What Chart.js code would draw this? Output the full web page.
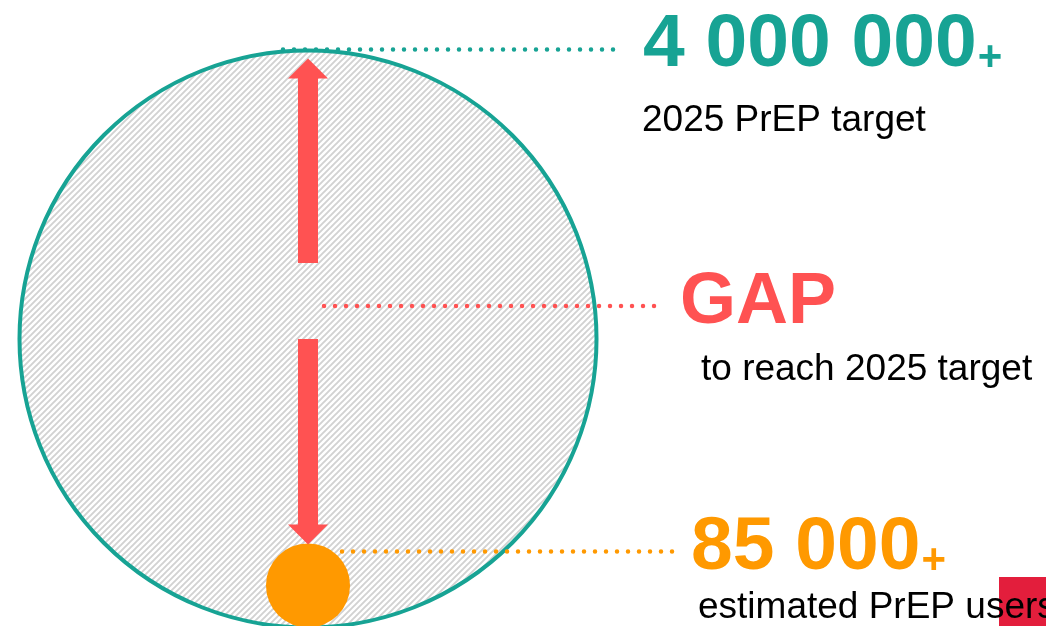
<!DOCTYPE html>
<html>
<head>
<meta charset="utf-8">
<script src="https://cdn.jsdelivr.net/npm/chart.js@4/dist/chart.umd.min.js"></script>
<style>
  html, body { margin: 0; padding: 0; background: #fff; }
  #wrap { width: 1046px; height: 626px; position: relative; overflow: hidden; }
</style>
</head>
<body>
<div id="wrap"><canvas id="prepChart"></canvas></div>
<script>
document.addEventListener('DOMContentLoaded', () => {

    // PrEP users against the 2025 target; circle areas follow the counts.
    const categories = ['2025 PrEP target', 'estimated PrEP users'];
    const prepCounts = [4000000, 85000];
    const gapTitle = 'GAP';
    const gapCaption = 'to reach 2025 target';

    const TEAL = '#17a394';
    const RED = '#ff5252';
    const ORANGE = '#ff9900';
    const FONT = '"Liberation Sans", Arial, sans-serif';

    function spaced(n) {
        return String(n).replace(/\B(?=(\d{3})+(?!\d))/g, ' ');
    }

    // Target circle has radius 1 in data units, the users circle is scaled by area
    // and sits inside it, touching the bottom edge.
    const radii = prepCounts.map(v => Math.sqrt(v / prepCounts[0]));
    const points = [
        { x: 0, y: 0 },
        { x: 0, y: -radii[0] + radii[1] },
    ];

    function hatchPattern() {
        const s = 6;
        const c = document.createElement('canvas');
        c.width = c.height = s;
        const g = c.getContext('2d');
        g.fillStyle = '#ffffff';
        g.fillRect(0, 0, s, s);
        g.strokeStyle = '#d2d2d2';
        g.lineWidth = 1.9;
        g.beginPath();
        g.moveTo(-1, s + 1); g.lineTo(s + 1, -1);
        g.moveTo(-1, 1); g.lineTo(1, -1);
        g.moveTo(s - 1, s + 1); g.lineTo(s + 1, s - 1);
        g.stroke();
        return g.createPattern(c, 'repeat');
    }
    const hatch = hatchPattern();

    // Pixels per data unit on the vertical scale.
    function unitPx(chart) {
        const y = chart.scales.y;
        return y.getPixelForValue(0) - y.getPixelForValue(1);
    }

    function dotted(ctx, x1, x2, y, color) {
        ctx.save();
        ctx.strokeStyle = color;
        ctx.lineWidth = 4.5;
        ctx.lineCap = 'round';
        ctx.setLineDash([0, 11]);
        ctx.beginPath();
        ctx.moveTo(x1, y);
        ctx.lineTo(x2, y);
        ctx.stroke();
        ctx.restore();
    }

    // Vertical block arrow from yFrom to the tip at yTo.
    function arrow(ctx, x, yFrom, yTo) {
        const dir = Math.sign(yTo - yFrom);
        const head = 20, shaft = 10, wing = 20;
        const base = yTo - dir * head;
        ctx.save();
        ctx.fillStyle = RED;
        ctx.beginPath();
        ctx.moveTo(x - shaft, yFrom);
        ctx.lineTo(x - shaft, base);
        ctx.lineTo(x - wing, base);
        ctx.lineTo(x, yTo);
        ctx.lineTo(x + wing, base);
        ctx.lineTo(x + shaft, base);
        ctx.lineTo(x + shaft, yFrom);
        ctx.closePath();
        ctx.fill();
        ctx.restore();
    }

    function text(ctx, str, x, y, size, color, bold) {
        ctx.font = (bold ? 'bold ' : '') + size + 'px ' + FONT;
        ctx.fillStyle = color;
        ctx.fillText(str, x, y);
        return ctx.measureText(str).width;
    }

    const annotations = {
        id: 'annotations',
        afterDatasetsDraw(chart) {
            const { ctx } = chart;
            const [big, small] = chart.getDatasetMeta(0).data;
            const bigTop = big.y - big.options.radius;
            const smallTop = small.y - small.options.radius;

            arrow(ctx, big.x, big.y - 76, bigTop + 8);
            arrow(ctx, big.x, big.y, smallTop + 1);

            dotted(ctx, big.x - 25, 623, bigTop - 1, TEAL);
            dotted(ctx, big.x + 16, 663, big.y - 33, RED);
            dotted(ctx, small.x + 34, 682, small.y - 34, ORANGE);

            ctx.save();
            ctx.textBaseline = 'alphabetic';
            ctx.textAlign = 'left';

            let w = text(ctx, spaced(prepCounts[0]), 643, 66, 75, TEAL, true);
            text(ctx, '+', 643 + w + 1, 70, 42, TEAL, true);
            text(ctx, categories[0], 642, 131, 37, '#000', false);

            text(ctx, gapTitle, 680, 323, 72, RED, true);
            text(ctx, gapCaption, 701, 380, 37, '#000', false);

            w = text(ctx, spaced(prepCounts[1]), 691, 569, 75, ORANGE, true);
            text(ctx, '+', 691 + w + 1, 573, 42, ORANGE, true);

            ctx.fillStyle = '#e31e3c';
            ctx.fillRect(999, 577, 47, 49);
            text(ctx, categories[1], 698, 618, 37, '#000', false);
            ctx.restore();
        }
    };

    new Chart(document.getElementById('prepChart'), {
        type: 'scatter',
        data: {
            labels: categories,
            datasets: [{
                data: points,
                showLine: false,
                pointRadius: (c) => unitPx(c.chart) * radii[c.dataIndex],
                pointHoverRadius: (c) => unitPx(c.chart) * radii[c.dataIndex],
                pointBackgroundColor: (c) => c.dataIndex === 0 ? hatch : ORANGE,
                pointBorderColor: TEAL,
                pointBorderWidth: (c) => c.dataIndex === 0 ? 4 : 0,
            }],
        },
        options: {
            responsive: true,
            maintainAspectRatio: false,
            animation: false,
            events: [],
            layout: { padding: 0 },
            plugins: {
                legend: { display: false },
                tooltip: { enabled: false },
            },
            scales: {
                x: { type: 'linear', display: false, min: -1.0676, max: 2.558 },
                y: { type: 'linear', display: false, min: -0.9948, max: 1.175 },
            },
        },
        plugins: [annotations],
    });

});
</script>
</body>
</html>
